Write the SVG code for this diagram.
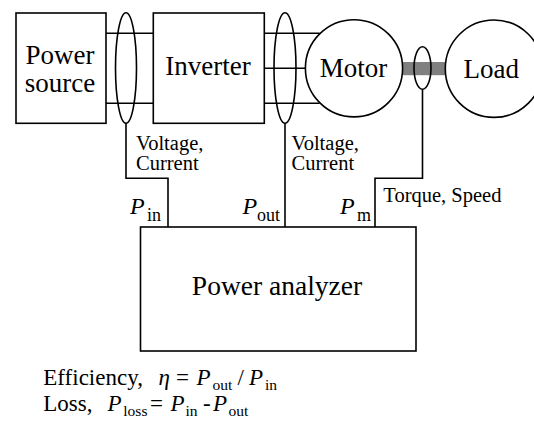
<svg xmlns="http://www.w3.org/2000/svg" width="534" height="421" viewBox="0 0 534 421">
<style>
.box{fill:#fff;stroke:#000;stroke-width:1.6}
.ln{fill:none;stroke:#000;stroke-width:1.6}
text{font-family:'Liberation Serif','DejaVu Serif',serif;fill:#000}
.nt{font-size:27px;text-anchor:middle}
.lb{font-size:20.5px}
.pm{font-size:24px;font-style:italic}
.sb{font-size:18px;font-style:normal}
.fm{font-size:23px}
.it{font-style:italic}
.fs{font-size:15.5px;font-style:normal}
</style>
<rect width="534" height="421" fill="#fff"/>
<g id="connectors">
  <line class="ln" x1="106" y1="33.3" x2="153" y2="33.3"/>
  <line class="ln" x1="106" y1="103.3" x2="153" y2="103.3"/>
  <line class="ln" x1="264" y1="33.3" x2="319.6" y2="33.3"/>
  <line class="ln" x1="264" y1="68.3" x2="305.4" y2="68.3"/>
  <line class="ln" x1="264" y1="103.3" x2="319.6" y2="103.3"/>
  <rect x="402.6" y="62" width="43" height="13.2" fill="#808080"/>
  <ellipse class="ln" cx="126" cy="68" rx="10.5" ry="55.3"/>
  <ellipse class="ln" cx="285" cy="68" rx="11" ry="55.3"/>
  <ellipse class="ln" cx="422.5" cy="68" rx="8.5" ry="21.3"/>
  <polyline class="ln" points="126,123.3 126,178.3 168,178.3 168,227"/>
  <line class="ln" x1="285" y1="123.3" x2="285" y2="227"/>
  <polyline class="ln" points="422.5,89.3 422.5,178.3 375,178.3 375,227"/>
</g>
<g id="power-source">
  <rect class="box" x="16" y="13" width="90" height="110.3"/>
  <text class="nt" x="60" y="63.5">Power</text>
  <text class="nt" x="60" y="91.5">source</text>
</g>
<g id="inverter">
  <rect class="box" x="153.3" y="13" width="111" height="110.3"/>
  <text class="nt" x="208" y="75">Inverter</text>
</g>
<g id="motor">
  <circle class="ln" cx="354" cy="68.3" r="48.6"/>
  <text class="nt" x="353.5" y="76.7">Motor</text>
</g>
<g id="load">
  <circle class="ln" cx="494" cy="68.7" r="48.7"/>
  <text class="nt" x="491.3" y="78">Load</text>
</g>
<g id="power-analyzer">
  <rect class="box" x="140.5" y="227" width="275.5" height="124"/>
  <text class="nt" x="277" y="295" style="font-size:27.5px">Power analyzer</text>
</g>
<g id="labels">
  <text class="lb" x="136" y="150">Voltage,</text>
  <text class="lb" x="136" y="170">Current</text>
  <text class="lb" x="291.5" y="150">Voltage,</text>
  <text class="lb" x="291.5" y="170">Current</text>
  <text class="lb" x="383.3" y="201.5">Torque, Speed</text>
  <text class="pm" x="130" y="214">P<tspan class="sb" x="147" y="221">in</tspan></text>
  <text class="pm" x="242.5" y="214">P<tspan class="sb" x="257" y="221">out</tspan></text>
  <text class="pm" x="340" y="214">P<tspan class="sb" x="357" y="221">m</tspan></text>
</g>
<g id="formulas">
  <text class="fm" x="43.3" y="385">Efficiency,<tspan class="it" x="158.5">η</tspan><tspan x="176">=</tspan><tspan class="it" x="196.5">P</tspan><tspan class="fs" x="212.5" dy="5">out</tspan><tspan x="237.5" dy="-5">/</tspan><tspan class="it" x="249">P</tspan><tspan class="fs" x="265" dy="5">in</tspan></text>
  <text class="fm" x="43.3" y="411">Loss,<tspan class="it" x="107.5">P</tspan><tspan class="fs" x="123.3" dy="5">loss</tspan><tspan x="150" dy="-5">=</tspan><tspan class="it" x="170.5">P</tspan><tspan class="fs" x="185.5" dy="5">in</tspan><tspan x="203" dy="-5">-</tspan><tspan class="it" x="213">P</tspan><tspan class="fs" x="228.5" dy="5">out</tspan></text>
</g>
</svg>
